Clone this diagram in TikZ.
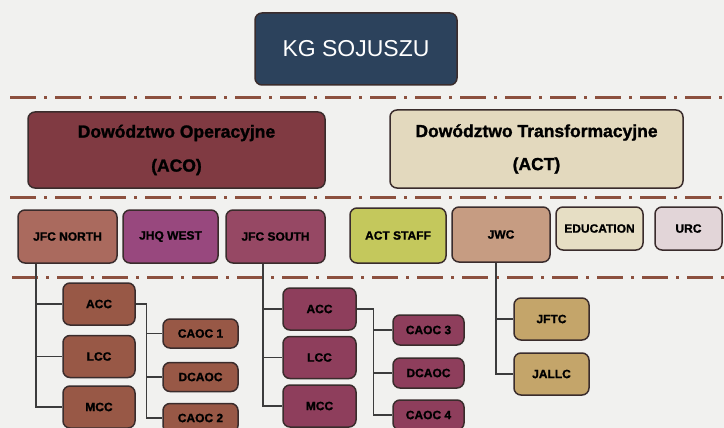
\documentclass[tikz,border=0pt]{standalone}
\usepackage{fontspec}
\setmainfont{Liberation Sans}[BoldFeatures={FakeBold=1.3}]
\usetikzlibrary{positioning}
\definecolor{kgblue}{RGB}{44,66,92}
\definecolor{acofill}{RGB}{128,58,66}
\definecolor{actfill}{RGB}{227,217,190}
\definecolor{northfill}{RGB}{170,106,94}
\definecolor{westfill}{RGB}{152,72,126}
\definecolor{southfill}{RGB}{150,72,100}
\definecolor{stafffill}{RGB}{196,200,92}
\definecolor{jwcfill}{RGB}{198,156,130}
\definecolor{edufill}{RGB}{230,222,196}
\definecolor{urcfill}{RGB}{226,213,216}
\definecolor{northsub}{RGB}{152,88,70}
\definecolor{southsub}{RGB}{142,62,92}
\definecolor{jwcsub}{RGB}{196,165,106}
\definecolor{sepbrown}{RGB}{140,80,62}
\definecolor{boxline}{RGB}{58,44,44}
\definecolor{linkgray}{RGB}{60,60,60}
\definecolor{paper}{RGB}{241,241,239}

\begin{document}
\begin{tikzpicture}[x=1pt, y=-1pt,
    every node/.style={font=\bfseries\fontsize{12}{14}\selectfont},
    box/.style={draw=boxline, line width=1.5pt, rounded corners=7pt, inner sep=0pt, align=center},
    sep/.style={draw=sepbrown, line width=3pt, dash pattern=on 26pt off 8pt on 3pt off 8pt},
    link/.style={draw=linkgray, line width=1.1pt}]
  % canvas
  \fill[paper] (0,0) rectangle (724,428);
  \clip (0,0) rectangle (724,428);
  \useasboundingbox (0,0) rectangle (724,428);

  % top
  \node[box, fill=kgblue, text=white, minimum width=202pt, minimum height=72pt,
        font=\fontsize{23}{26}\selectfont] (kg) at (356,49) {KG SOJUSZU};

  % separators
  \foreach \y/\x in {98/10, 197/10, 277/12} {
    \draw[sep] (\x,\y) -- (724,\y);
  }

  % commands
  \node[box, fill=acofill, minimum width=297pt, minimum height=76pt,
        font=\bfseries\fontsize{17.5}{34}\selectfont] (aco) at (176.5,150) {Dowództwo Operacyjne\\(ACO)};
  \node[box, fill=actfill, minimum width=293pt, minimum height=78pt,
        font=\bfseries\fontsize{17.5}{33}\selectfont] (act) at (536.5,149) {Dowództwo Transformacyjne\\(ACT)};

  % second level
  \foreach \n/\t/\c/\x/\w in {jfcN/JFC NORTH/northfill/67.5/99, jhqW/JHQ WEST/westfill/170.5/95, jfcS/JFC SOUTH/southfill/275.5/99} {
    \node[box, fill=\c, minimum width=\w pt, minimum height=53pt] (\n) at (\x,236.5) {\t};
  }
  \node[box, fill=stafffill, minimum width=96pt, minimum height=55pt] (staff) at (398,235.5) {ACT STAFF};
  \node[box, fill=jwcfill, minimum width=98pt, minimum height=55pt] (jwc) at (501,234.5) {JWC};
  \node[box, fill=edufill, minimum width=87pt, minimum height=43pt] (edu) at (599.5,228.5) {EDUCATION};
  \node[box, fill=urcfill, minimum width=67pt, minimum height=43pt] (urc) at (688.5,228.5) {URC};

  % JFC NORTH components
  \foreach \n/\t/\y in {accN/ACC/304, lccN/LCC/356.5, mccN/MCC/407} {
    \node[box, fill=northsub, minimum width=72pt, minimum height=42pt] (\n) at (99,\y) {\t};
  }
  \foreach \n/\t/\y in {caoc1N/CAOC 1/333.5, dcaocN/DCAOC/377, caoc2N/CAOC 2/418} {
    \node[box, fill=northsub, minimum width=75pt, minimum height=29pt] (\n) at (200.5,\y) {\t};
  }

  % JFC SOUTH components
  \foreach \n/\t/\y in {accS/ACC/309, lccS/LCC/357.5, mccS/MCC/406} {
    \node[box, fill=southsub, minimum width=73pt, minimum height=42pt] (\n) at (319.5,\y) {\t};
  }
  \foreach \n/\t/\y in {caoc3S/CAOC 3/330, dcaocS/DCAOC/373, caoc4S/CAOC 4/415} {
    \node[box, fill=southsub, minimum width=71pt, minimum height=30pt] (\n) at (428.5,\y) {\t};
  }

  % JWC centres
  \node[box, fill=jwcsub, minimum width=75pt, minimum height=42pt] (jftc) at (551.5,319) {JFTC};
  \node[box, fill=jwcsub, minimum width=75pt, minimum height=42pt] (jallc) at (551.5,374) {JALLC};

  % links
  \coordinate (tN) at ([xshift=-31.5pt]jfcN.south);
  \coordinate (tS) at ([xshift=-12.5pt]jfcS.south);
  \coordinate (tW) at ([xshift=-5pt]jwc.south);
  \coordinate (bN) at ([xshift=11pt]accN.east);
  \coordinate (bS) at ([xshift=17pt]accS.east);
  \foreach \n in {accN, lccN, mccN} { \draw[link] (tN) |- (\n.west); }
  \foreach \n in {accS, lccS, mccS} { \draw[link] (tS) |- (\n.west); }
  \foreach \n in {jftc, jallc} { \draw[link] (tW) |- (\n.west); }
  \foreach \n in {caoc1N, dcaocN, caoc2N} { \draw[link] (accN.east) -- (bN) |- (\n.west); }
  \foreach \n in {caoc3S, dcaocS, caoc4S} { \draw[link] (accS.east) -- (bS) |- (\n.west); }
\end{tikzpicture}
\end{document}
